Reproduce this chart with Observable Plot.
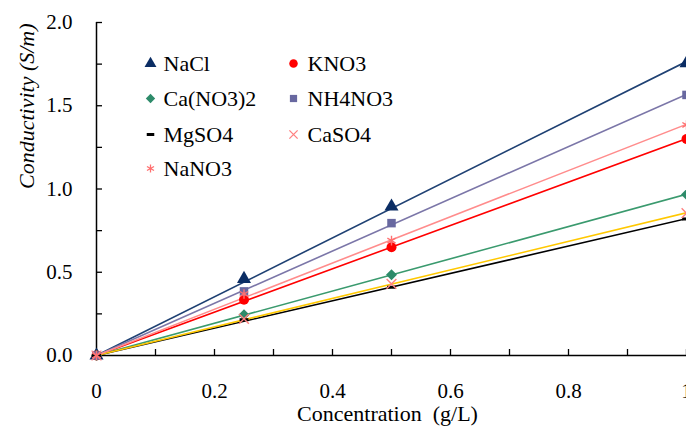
<!DOCTYPE html>
<html>
<head>
<meta charset="utf-8">
<script src="https://cdn.jsdelivr.net/npm/d3@7"></script>
<script src="https://cdn.jsdelivr.net/npm/@observablehq/plot@0.6"></script>
<style>
  html, body { margin: 0; padding: 0; background: white; overflow: hidden; }
  #chart svg, #chart svg * { font-family: "Liberation Serif", serif !important; }
</style>
</head>
<body>
<div id="chart"></div>
<script>
// ---- data ----
const concentration = [0, 0.25, 0.5, 1];
const seriesNames = ["NaCl", "KNO3", "Ca(NO3)2", "NH4NO3", "MgSO4", "CaSO4", "NaNO3"];
const NaCl    = [0, 0.46, 0.895, 1.755];
const KNO3    = [0, 0.335, 0.65, 1.30];
const CaNO32  = [0, 0.245, 0.485, 0.967];
const NH4NO3  = [0, 0.385, 0.795, 1.565];
const MgSO4   = [0, 0.215, 0.41, 0.82];
const CaSO4   = [0, 0.22, 0.43, 0.855];
const NaNO3   = [0, 0.37, 0.69, 1.385];
const xMinorTicks = [0, 0.1, 0.2, 0.3, 0.4, 0.5, 0.6, 0.7, 0.8, 0.9, 1];
const xLabelTicks = [0, 0.2, 0.4, 0.6, 0.8, 1];
const yMinorTicks = [0, 0.25, 0.5, 0.75, 1, 1.25, 1.5, 1.75, 2];
const yLabelTicks = [0, 0.5, 1, 1.5, 2];

// ---- styles ----
const dash = {draw(ctx, size) { const w = Math.sqrt(size) * 0.5; ctx.rect(-w, -1.5, 2 * w, 3); }};
const rhombus = {draw(ctx, size) { const a = Math.sqrt(size) * 0.62; ctx.moveTo(0, -a); ctx.lineTo(a, 0); ctx.lineTo(0, a); ctx.lineTo(-a, 0); ctx.closePath(); }};
const styles = {
  "NaCl":     {line: "#1F4173", mark: "#0B2D64", symbol: "triangle", filled: true, r: 5.2},
  "KNO3":     {line: "#FF0000", mark: "#FF0000", symbol: "circle",   filled: true, r: 5},
  "Ca(NO3)2": {line: "#3A9A6E", mark: "#2E8B6A", symbol: rhombus,    filled: true, r: 5},
  "NH4NO3":   {line: "#7B76A8", mark: "#6868A0", symbol: "square",   filled: true, r: 4.8},
  "MgSO4":    {line: "#000000", mark: "#000000", symbol: dash,       filled: true, r: 5},
  "CaSO4":    {line: "#FFC800", mark: "#FF8080", symbol: "times",    filled: false, r: 4.5},
  "NaNO3":    {line: "#FF8C8C", mark: "#FF7070", symbol: "asterisk", filled: false, r: 4.5}
};
const values = [NaCl, KNO3, CaNO32, NH4NO3, MgSO4, CaSO4, NaNO3];

const points = [];
seriesNames.forEach((s, i) => values[i].forEach((v, j) => points.push({series: s, x: concentration[j], y: v})));

// trend lines through the origin (least squares) computed from the data
const trends = [];
seriesNames.forEach((s, i) => {
  const sxy = d3.sum(concentration, (x, j) => x * values[i][j]);
  const sxx = d3.sum(concentration, x => x * x);
  const k = sxy / sxx;
  d3.extent(concentration).forEach(x => trends.push({series: s, x, y: k * x}));
});

const font = "Liberation Serif";
const marks = [];

// axes
marks.push(Plot.axisX(xMinorTicks, {tickSize: -6, tickFormat: () => "", strokeWidth: 1.3, label: null}));
marks.push(Plot.axisX(xLabelTicks, {tickSize: 0, tickPadding: 28, tickFormat: d => String(d), fontSize: 21, fontFamily: font, label: null}));
marks.push(Plot.axisY(yMinorTicks, {tickSize: -6, tickFormat: () => "", strokeWidth: 1.3, label: null}));
marks.push(Plot.axisY(yLabelTicks, {tickSize: 0, tickPadding: 24, tickFormat: d => d.toFixed(1), fontSize: 21, fontFamily: font, label: null}));
marks.push(Plot.ruleX([0], {strokeWidth: 1.5}));
marks.push(Plot.ruleY([0], {strokeWidth: 1.5}));

// trend lines
seriesNames.forEach(s => {
  marks.push(Plot.line(trends.filter(d => d.series === s), {x: "x", y: "y", stroke: styles[s].line, strokeWidth: 1.6}));
});
// markers
seriesNames.forEach(s => {
  const st = styles[s];
  const opts = {x: "x", y: "y", symbol: st.symbol, r: st.r};
  if (st.filled) { opts.fill = st.mark; opts.stroke = "none"; }
  else { opts.stroke = st.mark; opts.fill = "none"; opts.strokeWidth = 1.4; }
  marks.push(Plot.dot(points.filter(d => d.series === s), opts));
});

// legend (pixel offsets from the top-left corner of the frame)
const legendCols = [{mark: 54, text: 67}, {mark: 197, text: 211}];
const legendRows = [41, 76, 112, 146];
seriesNames.forEach((s, i) => {
  const col = legendCols[i % 2], row = legendRows[Math.floor(i / 2)];
  const st = styles[s];
  const opts = {frameAnchor: "top-left", dx: col.mark, dy: row, symbol: st.symbol, r: st.r * 0.85};
  if (st.filled) { opts.fill = st.mark; opts.stroke = "none"; }
  else { opts.stroke = st.mark; opts.fill = "none"; opts.strokeWidth = 1.3; }
  marks.push(Plot.dot([s], opts));
  marks.push(Plot.text([s], {frameAnchor: "top-left", dx: col.text, dy: row, text: d => d, textAnchor: "start", lineAnchor: "middle", fontSize: 22, fontFamily: font, fill: "black"}));
});

// axis titles
marks.push(Plot.text(["Concentration  (g/L)"], {frameAnchor: "bottom", dx: -4, dy: 58, text: d => d, fontSize: 22, fontFamily: font, lineAnchor: "middle"}));
marks.push(Plot.text(["Conductivity (S/m)"], {frameAnchor: "left", dx: -70, dy: 0, rotate: -90, text: d => d, fontSize: 22, fontFamily: font, fontStyle: "italic", lineAnchor: "middle"}));

const chart = Plot.plot({
  width: 686,
  height: 427,
  marginLeft: 96,
  marginRight: 0,
  marginTop: 22,
  marginBottom: 72,
  x: {domain: [0, 1], axis: null},
  y: {domain: [0, 2], axis: null},
  style: {fontSize: "21px", color: "black", background: "white"},
  marks
});
// force the serif face on the svg and every text element
chart.setAttribute("font-family", font);
chart.style.setProperty("font-family", "'Liberation Serif', serif", "important");
chart.querySelectorAll("g, text").forEach(el => {
  if (el.hasAttribute("font-family")) el.setAttribute("font-family", font);
});
chart.querySelectorAll("text, tspan").forEach(t => {
  t.setAttribute("font-family", font);
  t.style.setProperty("font-family", "'Liberation Serif', serif", "important");
});
document.getElementById("chart").appendChild(chart);
</script>
</body>
</html>
